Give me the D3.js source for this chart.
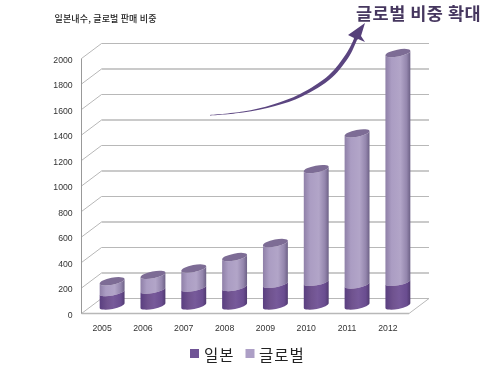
<!DOCTYPE html>
<html>
<head>
    <title>글로벌 판매 비중</title>
    <script src="https://cdnjs.cloudflare.com/ajax/libs/d3/7.8.5/d3.min.js"></script>
    <style>
        body { margin: 0; background: #fff; }
        svg { display: block; font-family: "Noto Sans CJK KR", sans-serif; filter: blur(0.3px); }
        .tick-label { font-family: "Liberation Sans", sans-serif; font-size: 8.7px; fill: #333; }
    </style>
</head>
<body>
    <div id="chart"></div>

    <script>
        // values
        const years = ["2005", "2006", "2007", "2008", "2009", "2010", "2011", "2012"];
        const japan = [105, 125, 140, 145, 170, 185, 165, 185];
        const overseas = [85, 115, 150, 235, 320, 885, 1185, 1795];
        const yTicks = [0, 200, 400, 600, 800, 1000, 1200, 1400, 1600, 1800, 2000];
        const legendNames = ["일본", "글로벌"];
        const chartTitle = "일본내수, 글로벌 판매 비중";
        const headline = "글로벌 비중 확대";

        const width = 500, height = 365;
        const depthX = 20, depthY = 15;   // 3d wall offset

        const svg = d3.select("#chart").append("svg")
            .attr("width", width).attr("height", height);

        const yScale = d3.scaleLinear().domain([0, 2000]).range([313.5, 58.5]);
        const xScale = d3.scaleBand().domain(years).range([91.5, 418.5]).paddingInner(0.39).paddingOuter(0.2);

        // gradients for the cylinders
        const defs = svg.append("defs");
        function addGradient(id, stops) {
            const g = defs.append("linearGradient").attr("id", id);
            stops.forEach(s => g.append("stop").attr("offset", s[0]).attr("stop-color", s[1]));
        }
        addGradient("darkBody", [[0, "#5a3f80"], [0.3, "#70538f"], [0.55, "#775a9a"], [0.85, "#6a4d90"], [1, "#503a70"]]);
        addGradient("lightBody", [[0, "#8f80a8"], [0.25, "#ab9dc3"], [0.6, "#b2a5c8"], [0.85, "#9486ad"], [1, "#6d6186"]]);

        // walls and floor
        const wall = svg.append("g").attr("fill", "none").attr("stroke", "#b8b8b8");
        yTicks.forEach((t, i) => {
            const y = yScale(t);
            wall.append("line").attr("x1", 81.5).attr("y1", y)
                .attr("x2", 81.5 + depthX).attr("y2", y - depthY);
            wall.append("line").attr("x1", 81.5 + depthX).attr("y1", y - depthY)
                .attr("x2", 429).attr("y2", y - depthY)
                .attr("stroke-width", i % 2 ? 1.4 : 1);
        });
        wall.append("line").attr("x1", 81.5).attr("y1", yScale(0)).attr("x2", 409).attr("y2", yScale(0)).attr("stroke-width", 1.3);
        wall.append("line").attr("x1", 409).attr("y1", yScale(0)).attr("x2", 429).attr("y2", yScale(0) - depthY);
        wall.append("line").attr("x1", 81.5).attr("y1", yScale(0)).attr("x2", 81.5).attr("y2", yScale(2000)).attr("stroke", "#999");

        // cylinder: body with a tilted ellipse on both ends
        const baseShift = 8;
        const ry = 3.4, tilt = 2.4;
        function ends(cx, rx, y) {
            return { lx: cx - rx, ly: y + tilt, rx: cx + rx, ry: y - tilt };
        }
        function bodyPath(cx, rx, y0, y1) {
            const b = ends(cx, rx, y0), t = ends(cx, rx, y1);
            return `M${t.lx},${t.ly}L${b.lx},${b.ly}A${rx},${ry} -11 0 0 ${b.rx},${b.ry}L${t.rx},${t.ry}A${rx},${ry} -11 0 1 ${t.lx},${t.ly}Z`;
        }
        function capPath(cx, rx, y) {
            const t = ends(cx, rx, y);
            return `M${t.lx},${t.ly}A${rx},${ry} -11 0 1 ${t.rx},${t.ry}A${rx},${ry} -11 0 1 ${t.lx},${t.ly}Z`;
        }

        const bars = svg.append("g").selectAll("g").data(years).enter().append("g");
        bars.each(function (year, i) {
            const g = d3.select(this);
            const cx = xScale(year) + xScale.bandwidth() / 2;
            const rx = xScale.bandwidth() / 2;
            const y0 = yScale(0) - baseShift;
            const y1 = yScale(japan[i]) - baseShift;
            const y2 = yScale(japan[i] + overseas[i]) - baseShift;
            g.append("path").attr("d", bodyPath(cx, rx, y1, y2)).attr("fill", "url(#lightBody)");
            g.append("path").attr("d", bodyPath(cx, rx, y0, y1)).attr("fill", "url(#darkBody)");
            g.append("path").attr("d", capPath(cx, rx, y2)).attr("fill", "#7d6c95");
        });

        // tick labels
        svg.append("g").selectAll("text").data(yTicks).enter().append("text")
            .attr("class", "tick-label")
            .attr("x", 72.7).attr("y", d => yScale(d) + 4)
            .attr("text-anchor", "end")
            .text(d => d);
        svg.append("g").selectAll("text").data(years).enter().append("text")
            .attr("class", "tick-label")
            .attr("x", d => xScale(d) + xScale.bandwidth() / 2 - 10)
            .attr("y", 331)
            .attr("text-anchor", "middle")
            .text(d => d);

        // titles
        svg.append("text").attr("x", 54.5).attr("y", 22)
            .style("font-size", "9px").style("font-weight", 500).attr("fill", "#222")
            .attr("letter-spacing", "0.15px")
            .text(chartTitle);
        svg.append("text").attr("x", 356).attr("y", 19.5)
            .style("font-size", "17.5px").style("font-weight", 700).attr("fill", "#46375f")
            .attr("letter-spacing", "0.5px")
            .text(headline);

        // legend
        const legendX = [190, 245.5], legendColors = ["#6f5395", "#ad9fc6"], legendTextX = [204, 259];
        legendNames.forEach((name, i) => {
            svg.append("rect").attr("x", legendX[i]).attr("y", 349)
                .attr("width", 9).attr("height", 9).attr("fill", legendColors[i]);
            svg.append("text").attr("x", legendTextX[i]).attr("y", 360.5)
                .style("font-size", "15.5px").attr("fill", "#222")
                .attr("letter-spacing", "1px")
                .text(name);
        });

        // growth arrow, a brush stroke that widens towards the head
        const arrowUpper = [[210, 115], [243, 111.6], [273, 104.4], [300, 94], [329, 75], [346, 54], [353.5, 40]];
        const arrowLower = [[356.5, 41], [350, 55], [332, 77.5], [302, 96.5], [275, 106], [243, 112.6], [210, 115.6]];
        const arrowLine = d3.line().curve(d3.curveCatmullRom);
        svg.append("path").attr("d", arrowLine(arrowUpper) + "L" + arrowLine(arrowLower).slice(1) + "Z")
            .attr("fill", "#5b4580");
        svg.append("path")
            .attr("d", d3.line()([[365, 23], [348, 35], [354, 38], [352, 46], [358, 39], [365, 42], [361, 36]]) + "Z")
            .attr("fill", "#56407a");
    </script>
</body>
</html>
